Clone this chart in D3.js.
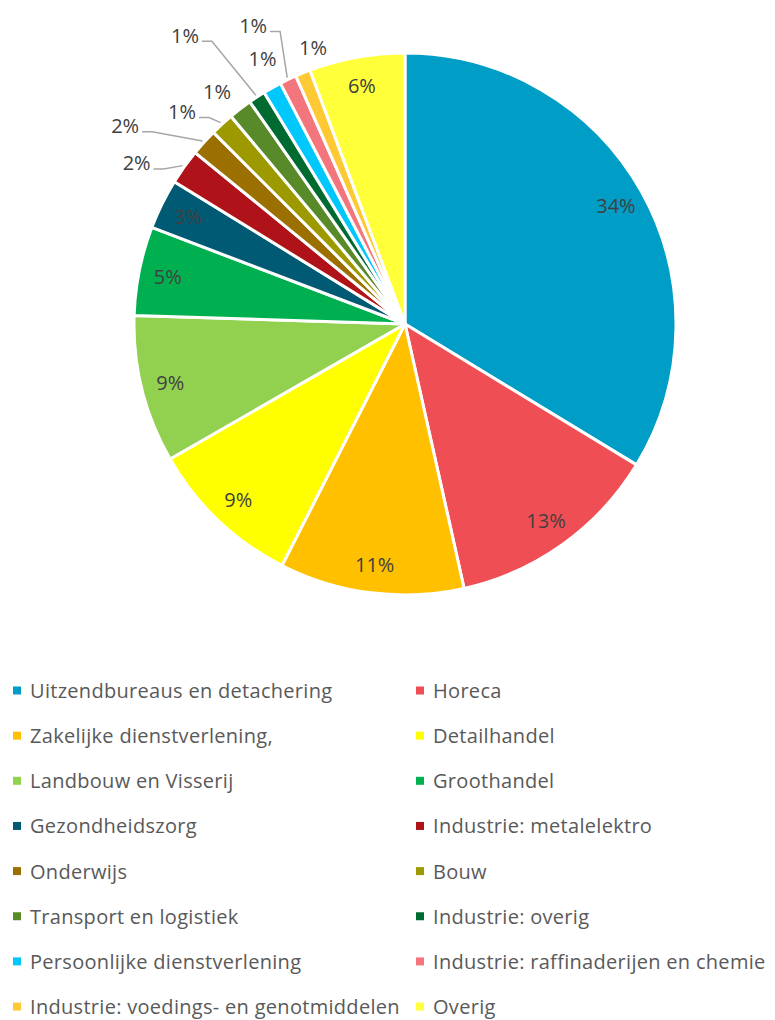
<!DOCTYPE html>
<html>
<head>
<meta charset="utf-8">
<script src="https://cdn.jsdelivr.net/npm/d3@7"></script>
<style>
  body { margin: 0; background: #fff; }
  svg { display: block; font-family: "Open Sans", sans-serif; }
</style>
</head>
<body>
<svg id="chart" width="775" height="1020"></svg>
<script>
// Sector shares (percent), clockwise from 12 o'clock
const categories = [
  "Uitzendbureaus en detachering", "Horeca",
  "Zakelijke dienstverlening,", "Detailhandel",
  "Landbouw en Visserij", "Groothandel",
  "Gezondheidszorg", "Industrie: metalelektro",
  "Onderwijs", "Bouw",
  "Transport en logistiek", "Industrie: overig",
  "Persoonlijke dienstverlening", "Industrie: raffinaderijen en chemie",
  "Industrie: voedings- en genotmiddelen", "Overig"
];
const values = [33.7, 12.8, 11.0, 9.2, 8.8, 5.3, 3.0, 2.1, 1.6, 1.4, 1.4, 1.0, 1.1, 1.0, 0.9, 5.7];

const palette = [
  "#009dc6", "#ef4e55", "#ffc000", "#ffff00", "#92d050", "#00b050",
  "#005a73", "#b01219", "#9b7000", "#9c9a00", "#588a2a", "#006b31",
  "#00c7fc", "#f3767d", "#ffc933", "#ffff3a"
];

// outside labels for the thin slices: angle shift (deg) from slice middle, radius, leader line
const outside = {
  7:  { da: -4.5, r: 313, leader: true },
  8:  { da: -6.8, r: 343, leader: true },
  9:  { da: -3.9, r: 308, leader: true },
  10: { da: -1.5, r: 299, leader: false },
  11: { da: -4.2, r: 363, leader: true },
  12: { da: 1.1,  r: 301, leader: false },
  13: { da: -1.4, r: 335, leader: true },
  14: { da: 3.7,  r: 291, leader: false }
};

const svg = d3.select("#chart");
const cx = 405, cy = 324, R = 271;
const data = categories.map((c, i) => ({ name: c, value: values[i], i }));
const total = d3.sum(values);
const fmt = v => `${Math.round(v / total * 100)}%`;

const pie = d3.pie().value(d => d.value).sort(null);
const arcs = pie(data);
const arc = d3.arc().innerRadius(0).outerRadius(R);
const color = d3.scaleOrdinal().domain(categories).range(palette);

const g = svg.append("g").attr("transform", `translate(${cx},${cy})`);

g.selectAll("path.slice").data(arcs).join("path")
  .attr("class", "slice")
  .attr("d", arc)
  .attr("fill", d => color(d.data.name))
  .attr("stroke", "#fff").attr("stroke-width", 3).attr("stroke-linejoin", "round");

const polar = (a, r) => [Math.sin(a) * r, -Math.cos(a) * r];
const mid = d => (d.startAngle + d.endAngle) / 2;

// inside labels
g.selectAll("text.in").data(arcs.filter(d => !outside[d.index])).join("text")
  .attr("class", "in")
  .attr("x", d => polar(mid(d), 242)[0])
  .attr("y", d => polar(mid(d), 242)[1])
  .attr("text-anchor", "middle").attr("dominant-baseline", "central")
  .attr("fill", "#404040").style("font-size", "20px")
  .text(d => fmt(d.data.value));

// outside labels
const outs = arcs.filter(d => outside[d.index]);
outs.forEach(d => {
  const o = outside[d.index];
  const [x, y] = polar(mid(d) + o.da * Math.PI / 180, o.r);
  const t = g.append("text")
    .attr("x", x).attr("y", y)
    .attr("text-anchor", "middle").attr("dominant-baseline", "central")
    .attr("fill", "#404040").style("font-size", "20px")
    .text(fmt(d.data.value));
  if (o.leader) {
    const hw = t.node().getComputedTextLength() / 2;
    const [ex, ey] = polar(mid(d), R + 2);
    g.append("polyline")
      .attr("points", [[x + hw + 3, y + 6], [x + hw + 13, y + 6], [ex, ey]].map(p => p.join(",")).join(" "))
      .attr("fill", "none").attr("stroke", "#a6a6a6").attr("stroke-width", 1.5);
  }
});

// legend, two columns
const colX = [13, 416], base0 = 698, rowH = 45.15;
const leg = svg.selectAll("g.leg").data(data).join("g")
  .attr("class", "leg")
  .attr("transform", d => `translate(${colX[d.i % 2]},${base0 + Math.floor(d.i / 2) * rowH})`);
leg.append("rect")
  .attr("x", 0).attr("y", -11.5).attr("width", 8).attr("height", 8)
  .attr("fill", d => color(d.name));
leg.append("text")
  .attr("x", 17).attr("y", 0)
  .attr("fill", "#595959").style("font-size", "20px").style("letter-spacing", "0.3px")
  .text(d => d.name);
</script>
</body>
</html>
